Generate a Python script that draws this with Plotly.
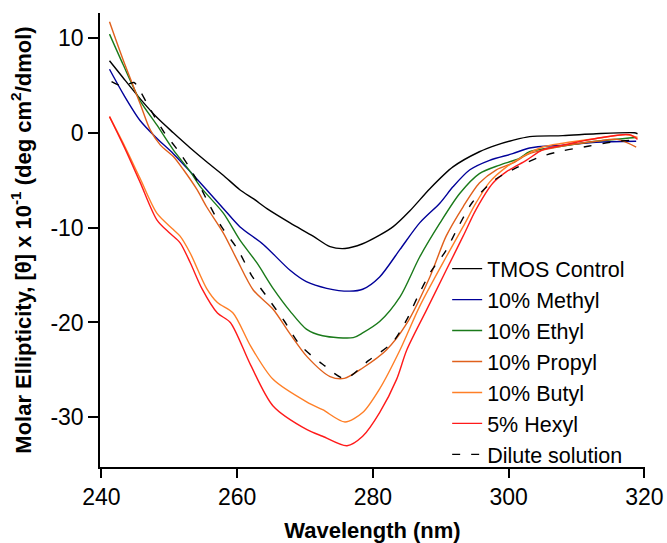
import plotly.graph_objects as go

# ---- data ----
tmos_x = [241.2, 243.2, 245.7, 248.2, 250.6, 253.1, 255.5, 258.0, 260.4, 262.5, 264.4, 267.8, 271.2, 273.7, 275.9, 278.5, 281.0, 283.0, 285.5, 288.4, 291.8, 295.7, 298.2, 300.6, 303.1, 308.0, 312.9, 318.5, 319.0]
tmos_y = [7.6, 5.8, 3.6, 1.6, 0.0, -1.6, -3.05, -4.5, -6.0, -7.0, -8.0, -9.5, -10.9, -12.0, -12.2, -11.7, -10.8, -9.9, -8.2, -5.9, -3.6, -2.0, -1.3, -0.8, -0.4, -0.3, -0.1, 0.0, -0.1]

methyl_x = [241.2, 243.3, 245.7, 248.2, 250.6, 253.1, 255.5, 258.0, 260.4, 263.9, 267.8, 270.2, 273.2, 276.6, 278.5, 281.0, 284.0, 286.9, 289.9, 291.8, 294.3, 297.2, 300.6, 303.1, 308.0, 312.9, 318.8]
methyl_y = [6.7, 4.0, 1.3, -0.6, -2.2, -4.1, -6.0, -8.0, -9.9, -11.8, -14.5, -15.7, -16.4, -16.7, -16.5, -15.2, -12.3, -9.5, -7.4, -5.7, -3.9, -2.9, -2.2, -1.6, -1.3, -1.0, -0.9]

ethyl_x = [241.2, 243.2, 245.7, 248.2, 250.6, 253.1, 254.6, 258.0, 260.4, 262.9, 265.3, 267.8, 270.2, 272.6, 277.1, 278.5, 281.0, 284.0, 286.9, 289.9, 292.8, 295.7, 298.7, 301.6, 303.1, 308.0, 312.9, 318.8]
ethyl_y = [10.4, 7.2, 3.4, 0.8, -1.8, -4.1, -5.7, -8.5, -11.3, -13.7, -16.4, -18.8, -20.7, -21.4, -21.6, -21.1, -19.9, -17.3, -13.1, -9.5, -6.4, -4.3, -3.4, -2.7, -2.0, -1.4, -0.9, -0.5]

propyl_x = [241.2, 243.2, 245.7, 247.2, 248.7, 250.6, 252.1, 254.1, 255.5, 258.0, 260.0, 262.4, 265.3, 267.8, 270.3, 273.7, 275.8, 278.5, 282.0, 285.0, 288.4, 290.8, 293.3, 295.7, 298.2, 300.6, 303.1, 308.0, 312.9, 316.0, 318.8]
propyl_y = [11.7, 7.7, 3.1, 0.3, -1.3, -2.5, -3.9, -6.0, -7.8, -10.6, -13.4, -16.6, -18.6, -21.2, -23.6, -25.7, -25.9, -24.8, -22.9, -20.1, -15.2, -10.9, -7.8, -5.3, -3.9, -3.2, -2.2, -1.4, -0.9, -0.7, -1.5]

butyl_x = [241.2, 243.5, 245.7, 248.2, 250.6, 251.6, 253.1, 255.5, 257.1, 259.4, 262.0, 265.3, 270.3, 272.6, 275.9, 278.5, 281.0, 284.0, 286.9, 290.8, 293.3, 295.2, 297.2, 299.7, 302.1, 305.0, 308.0, 312.9, 317.4, 319.0]
butyl_y = [1.7, -1.5, -4.8, -8.5, -10.2, -10.9, -12.7, -16.4, -17.9, -19.0, -22.5, -26.0, -28.4, -29.2, -30.5, -29.5, -27.0, -22.9, -18.3, -13.1, -9.9, -7.4, -5.2, -3.6, -2.5, -1.5, -1.1, -0.6, -0.2, -0.5]

hexyl_x = [241.2, 243.5, 245.7, 248.2, 250.1, 251.6, 253.1, 254.8, 257.1, 259.0, 262.0, 265.3, 270.3, 272.6, 276.2, 278.5, 281.0, 283.5, 285.0, 287.9, 290.8, 293.3, 295.2, 297.7, 299.7, 302.6, 305.0, 308.0, 312.9, 317.8, 319.0]
hexyl_y = [1.7, -1.7, -5.2, -9.2, -10.6, -11.6, -13.7, -16.4, -19.0, -20.0, -24.5, -28.8, -31.3, -32.0, -33.0, -32.0, -29.5, -26.0, -22.9, -18.7, -14.5, -10.9, -8.1, -5.3, -4.1, -2.9, -1.8, -1.3, -0.6, -0.2, -0.7]

dilute_x = [241.5, 243.2, 244.8, 245.8, 246.8, 249.2, 251.8, 254.0, 255.7, 257.7, 260.1, 262.1, 264.4, 267.0, 269.3, 272.6, 275.9, 279.4, 282.9, 285.0, 286.6, 288.5, 290.7, 292.6, 294.7, 297.9, 301.1, 304.8, 308.0, 311.9, 315.0, 319.3]
dilute_y = [5.4, 4.9, 5.3, 4.3, 3.0, 0.1, -2.35, -4.9, -7.3, -9.9, -12.3, -15.0, -17.3, -19.9, -22.4, -24.4, -25.9, -24.0, -22.1, -19.7, -17.3, -14.7, -12.5, -9.9, -7.3, -5.0, -3.7, -2.5, -1.9, -1.4, -1.0, -0.7]

series = [
    ("TMOS Control", tmos_x, tmos_y, "#000000", "solid"),
    ("10% Methyl", methyl_x, methyl_y, "#000099", "solid"),
    ("10% Ethyl", ethyl_x, ethyl_y, "#1a7a1a", "solid"),
    ("10% Propyl", propyl_x, propyl_y, "#e0601c", "solid"),
    ("10% Butyl", butyl_x, butyl_y, "#ff7f27", "solid"),
    ("5% Hexyl", hexyl_x, hexyl_y, "#ff1a1a", "solid"),
    ("Dilute solution", dilute_x, dilute_y, "#000000", "8px,11px"),
]

x_ticks = [240, 260, 280, 300, 320]
x_tick_labels = ["240", "260", "280", "300", "320"]
y_ticks = [10, 0, -10, -20, -30]
y_tick_labels = ["10", "0", "-10", "-20", "-30"]

FONT = "Liberation Sans, Arial, Helvetica, sans-serif"

fig = go.Figure()
for name, xs, ys, color, dash in series:
    fig.add_trace(go.Scatter(
        x=xs, y=ys, name=name, mode="lines",
        line=dict(color=color, width=1.4, dash=dash, shape="spline", smoothing=0.8),
    ))

fig.update_layout(
    width=667, height=543,
    margin=dict(l=100, r=22, t=13, b=76),
    paper_bgcolor="white", plot_bgcolor="white",
    font=dict(family=FONT, size=23, color="black"),
    showlegend=True,
    legend=dict(
        x=0.637, y=0.482, xanchor="left", yanchor="top",
        bgcolor="rgba(0,0,0,0)", borderwidth=0,
        font=dict(family=FONT, size=21.5, color="black"),
        itemwidth=30,
    ),
    xaxis=dict(
        range=[239.8, 320.1], tickvals=x_ticks, ticktext=x_tick_labels,
        automargin=False,
        showline=True, linecolor="black", linewidth=1.5,
        ticks="outside", ticklen=9, tickwidth=1.5, tickcolor="black",
        showgrid=False, zeroline=False,
        tickfont=dict(family=FONT, size=23, color="black"),
        title=dict(text="<b>Wavelength (nm)</b>", font=dict(family=FONT, size=22, color="black"), standoff=15),
    ),
    yaxis=dict(
        range=[-35.24, 12.63], tickvals=y_ticks, ticktext=y_tick_labels,
        automargin=False,
        showline=True, linecolor="black", linewidth=1.5,
        ticks="outside", ticklen=10, tickwidth=1.5, tickcolor="black",
        showgrid=False, zeroline=False,
        tickfont=dict(family=FONT, size=23, color="black"),
        title=dict(text="<b>Molar Ellipticity, [θ] x 10<sup>-1</sup> (deg cm<sup>2</sup>/dmol)</b>",
                   font=dict(family=FONT, size=22, color="black"), standoff=13),
    ),
)

fig.write_html("out.html", config={"displayModeBar": False},
               post_script="document.body.style.margin='0';document.body.style.overflow='hidden';")
